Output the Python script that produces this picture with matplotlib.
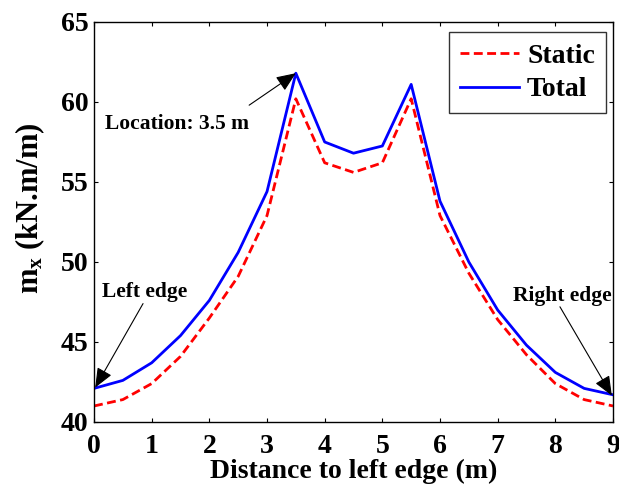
import matplotlib
matplotlib.use("Agg")
import matplotlib.pyplot as plt

plt.rcParams["font.family"] = ["Liberation Serif", "DejaVu Serif"]
plt.rcParams["font.weight"] = "bold"
plt.rcParams["mathtext.fontset"] = "custom"
plt.rcParams["mathtext.rm"] = "Liberation Serif:bold"
plt.rcParams["mathtext.it"] = "Liberation Serif:bold"
plt.rcParams["mathtext.bf"] = "Liberation Serif:bold"

# Distance along the slab and bending moments
distance = [0, 0.5, 1, 1.5, 2, 2.5, 3, 3.5, 4, 4.5, 5, 5.5, 6, 6.5, 7, 7.5, 8, 8.5, 9]
static = [41.0, 41.4, 42.4, 44.1, 46.5, 49.1, 52.9, 60.2, 56.2, 55.6, 56.2, 60.2,
          52.9, 49.3, 46.4, 44.2, 42.4, 41.4, 41.0]
total = [42.1, 42.6, 43.7, 45.4, 47.6, 50.6, 54.4, 61.8, 57.5, 56.8, 57.25, 61.1,
         53.8, 50.0, 47.0, 44.8, 43.1, 42.1, 41.7]

xticks = [0, 1, 2, 3, 4, 5, 6, 7, 8, 9]
yticks = [40, 45, 50, 55, 60, 65]

fig = plt.figure(figsize=(6.19, 4.92), dpi=100)
ax = fig.add_axes([0.1519, 0.1423, 0.8384, 0.813])

ax.plot(distance, static, color="red", linestyle="--", lw=2, dashes=(3.2, 1.6), label="Static")
ax.plot(distance, total, color="blue", linestyle="-", lw=2, label="Total")

ax.set_xlim(0, 9)
ax.set_ylim(40, 65)
ax.set_xticks(xticks)
ax.set_yticks(yticks)
ax.tick_params(direction="in", length=3, width=0.8, top=True, right=True, labelsize=20)
ax.tick_params(axis="x", pad=8.5)
ax.tick_params(axis="y", pad=4)
for lab in ax.get_xticklabels() + ax.get_yticklabels():
    lab.set_fontweight("bold")
for sp in ax.spines.values():
    sp.set_linewidth(1.0)

ax.set_xlabel("Distance to left edge (m)", fontsize=20, fontweight="bold", labelpad=0)
ax.set_ylabel(r"$\mathrm{m}_\mathrm{x}$ (kN.m/m)", fontsize=22, fontweight="bold")
ax.yaxis.set_label_coords(-0.09, 0.535)

leg = ax.legend(loc="upper right", bbox_to_anchor=(0.9865, 0.975), fontsize=20,
                frameon=True, fancybox=False, edgecolor="black", handlelength=2.1,
                borderpad=0.4, labelspacing=0.3, handletextpad=0.3, borderaxespad=0.0)
leg.get_frame().set_linewidth(1.0)
for t in leg.get_texts():
    t.set_fontweight("bold")

arrow = dict(arrowstyle="-|>,head_length=1.2,head_width=0.5", color="black",
             lw=0.8, shrinkA=0, shrinkB=0)

ax.annotate("", xy=(3.5, total[7]), xytext=(2.69, 59.8), arrowprops=arrow)
ax.text(0.19, 58.6, "Location: 3.5 m", fontsize=15.5, fontweight="bold", va="center")

ax.annotate("", xy=(0.02, total[0] + 0.05), xytext=(0.85, 47.4), arrowprops=arrow)
ax.text(0.14, 48.1, "Left edge", fontsize=15.5, fontweight="bold", va="center")

ax.annotate("", xy=(8.98, total[-1] - 0.05), xytext=(8.08, 47.2), arrowprops=arrow)
ax.text(7.27, 47.9, "Right edge", fontsize=15.5, fontweight="bold", va="center")

fig.savefig("out.png", dpi=100)
